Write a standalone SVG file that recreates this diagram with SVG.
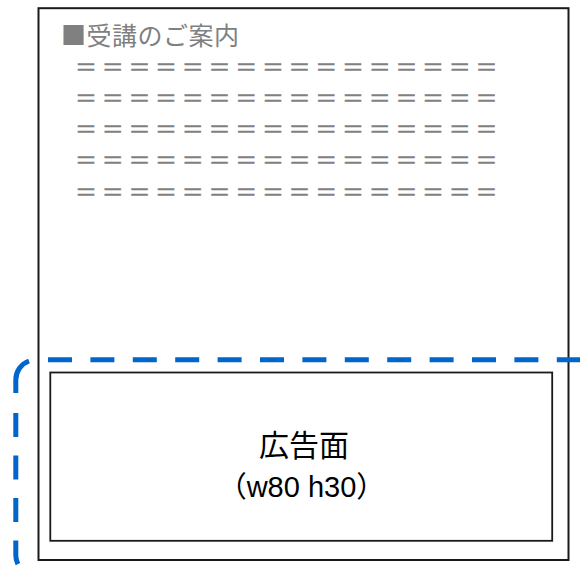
<svg xmlns="http://www.w3.org/2000/svg" width="580" height="567" viewBox="0 0 580 567">
  <style>
    .frame { fill: #ffffff; stroke: #1a1a1a; stroke-width: 2; }
    .inner { fill: #ffffff; stroke: #1a1a1a; stroke-width: 1.8; }
    .gray { fill: #808080; font-family: "Noto Sans CJK JP", "Liberation Sans", sans-serif; }
    .eq { fill: #808080; stroke: #808080; stroke-width: 0.5; font-family: "Noto Sans CJK JP", sans-serif; font-size: 22px; letter-spacing: 4.7px; }
    .label { fill: #000000; font-family: "Liberation Sans", "Noto Sans CJK JP", sans-serif; text-anchor: middle; }
    .sel { fill: none; stroke: #0066CC; stroke-width: 5; stroke-linecap: butt; }
  </style>
  <rect width="580" height="567" fill="#ffffff"/>
  <g id="page">
    <rect class="frame" x="38.5" y="8.2" width="530" height="551.8"/>
    <text class="gray" x="61" y="45" font-size="25" letter-spacing="0.5">■受講のご案内</text>
    <text class="eq" x="75" y="75">＝＝＝＝＝＝＝＝＝＝＝＝＝＝＝＝</text>
    <text class="eq" x="75" y="105.6">＝＝＝＝＝＝＝＝＝＝＝＝＝＝＝＝</text>
    <text class="eq" x="75" y="136.6">＝＝＝＝＝＝＝＝＝＝＝＝＝＝＝＝</text>
    <text class="eq" x="75" y="167.6">＝＝＝＝＝＝＝＝＝＝＝＝＝＝＝＝</text>
    <text class="eq" x="75" y="199.8">＝＝＝＝＝＝＝＝＝＝＝＝＝＝＝＝</text>
  </g>
  <g id="ad-area">
    <rect class="inner" x="50.3" y="372.5" width="501.9" height="168.3"/>
    <text class="label" x="304" y="456" font-size="30">広告面</text>
    <text class="label" x="301.5" y="496.5" font-size="29">（w80 h30）</text>
  </g>
  <g id="selection">
    <path class="sel" d="M48 359.7 H600" stroke-dasharray="24 18.4"/>
    <path class="sel" d="M15.8 393 V379.7 A20 20 0 0 1 29 361"/>
    <path class="sel" d="M15.8 413 V555.3 A20 20 0 0 0 35.8 575.3 H600" stroke-dasharray="24 18.5"/>
  </g>
</svg>
